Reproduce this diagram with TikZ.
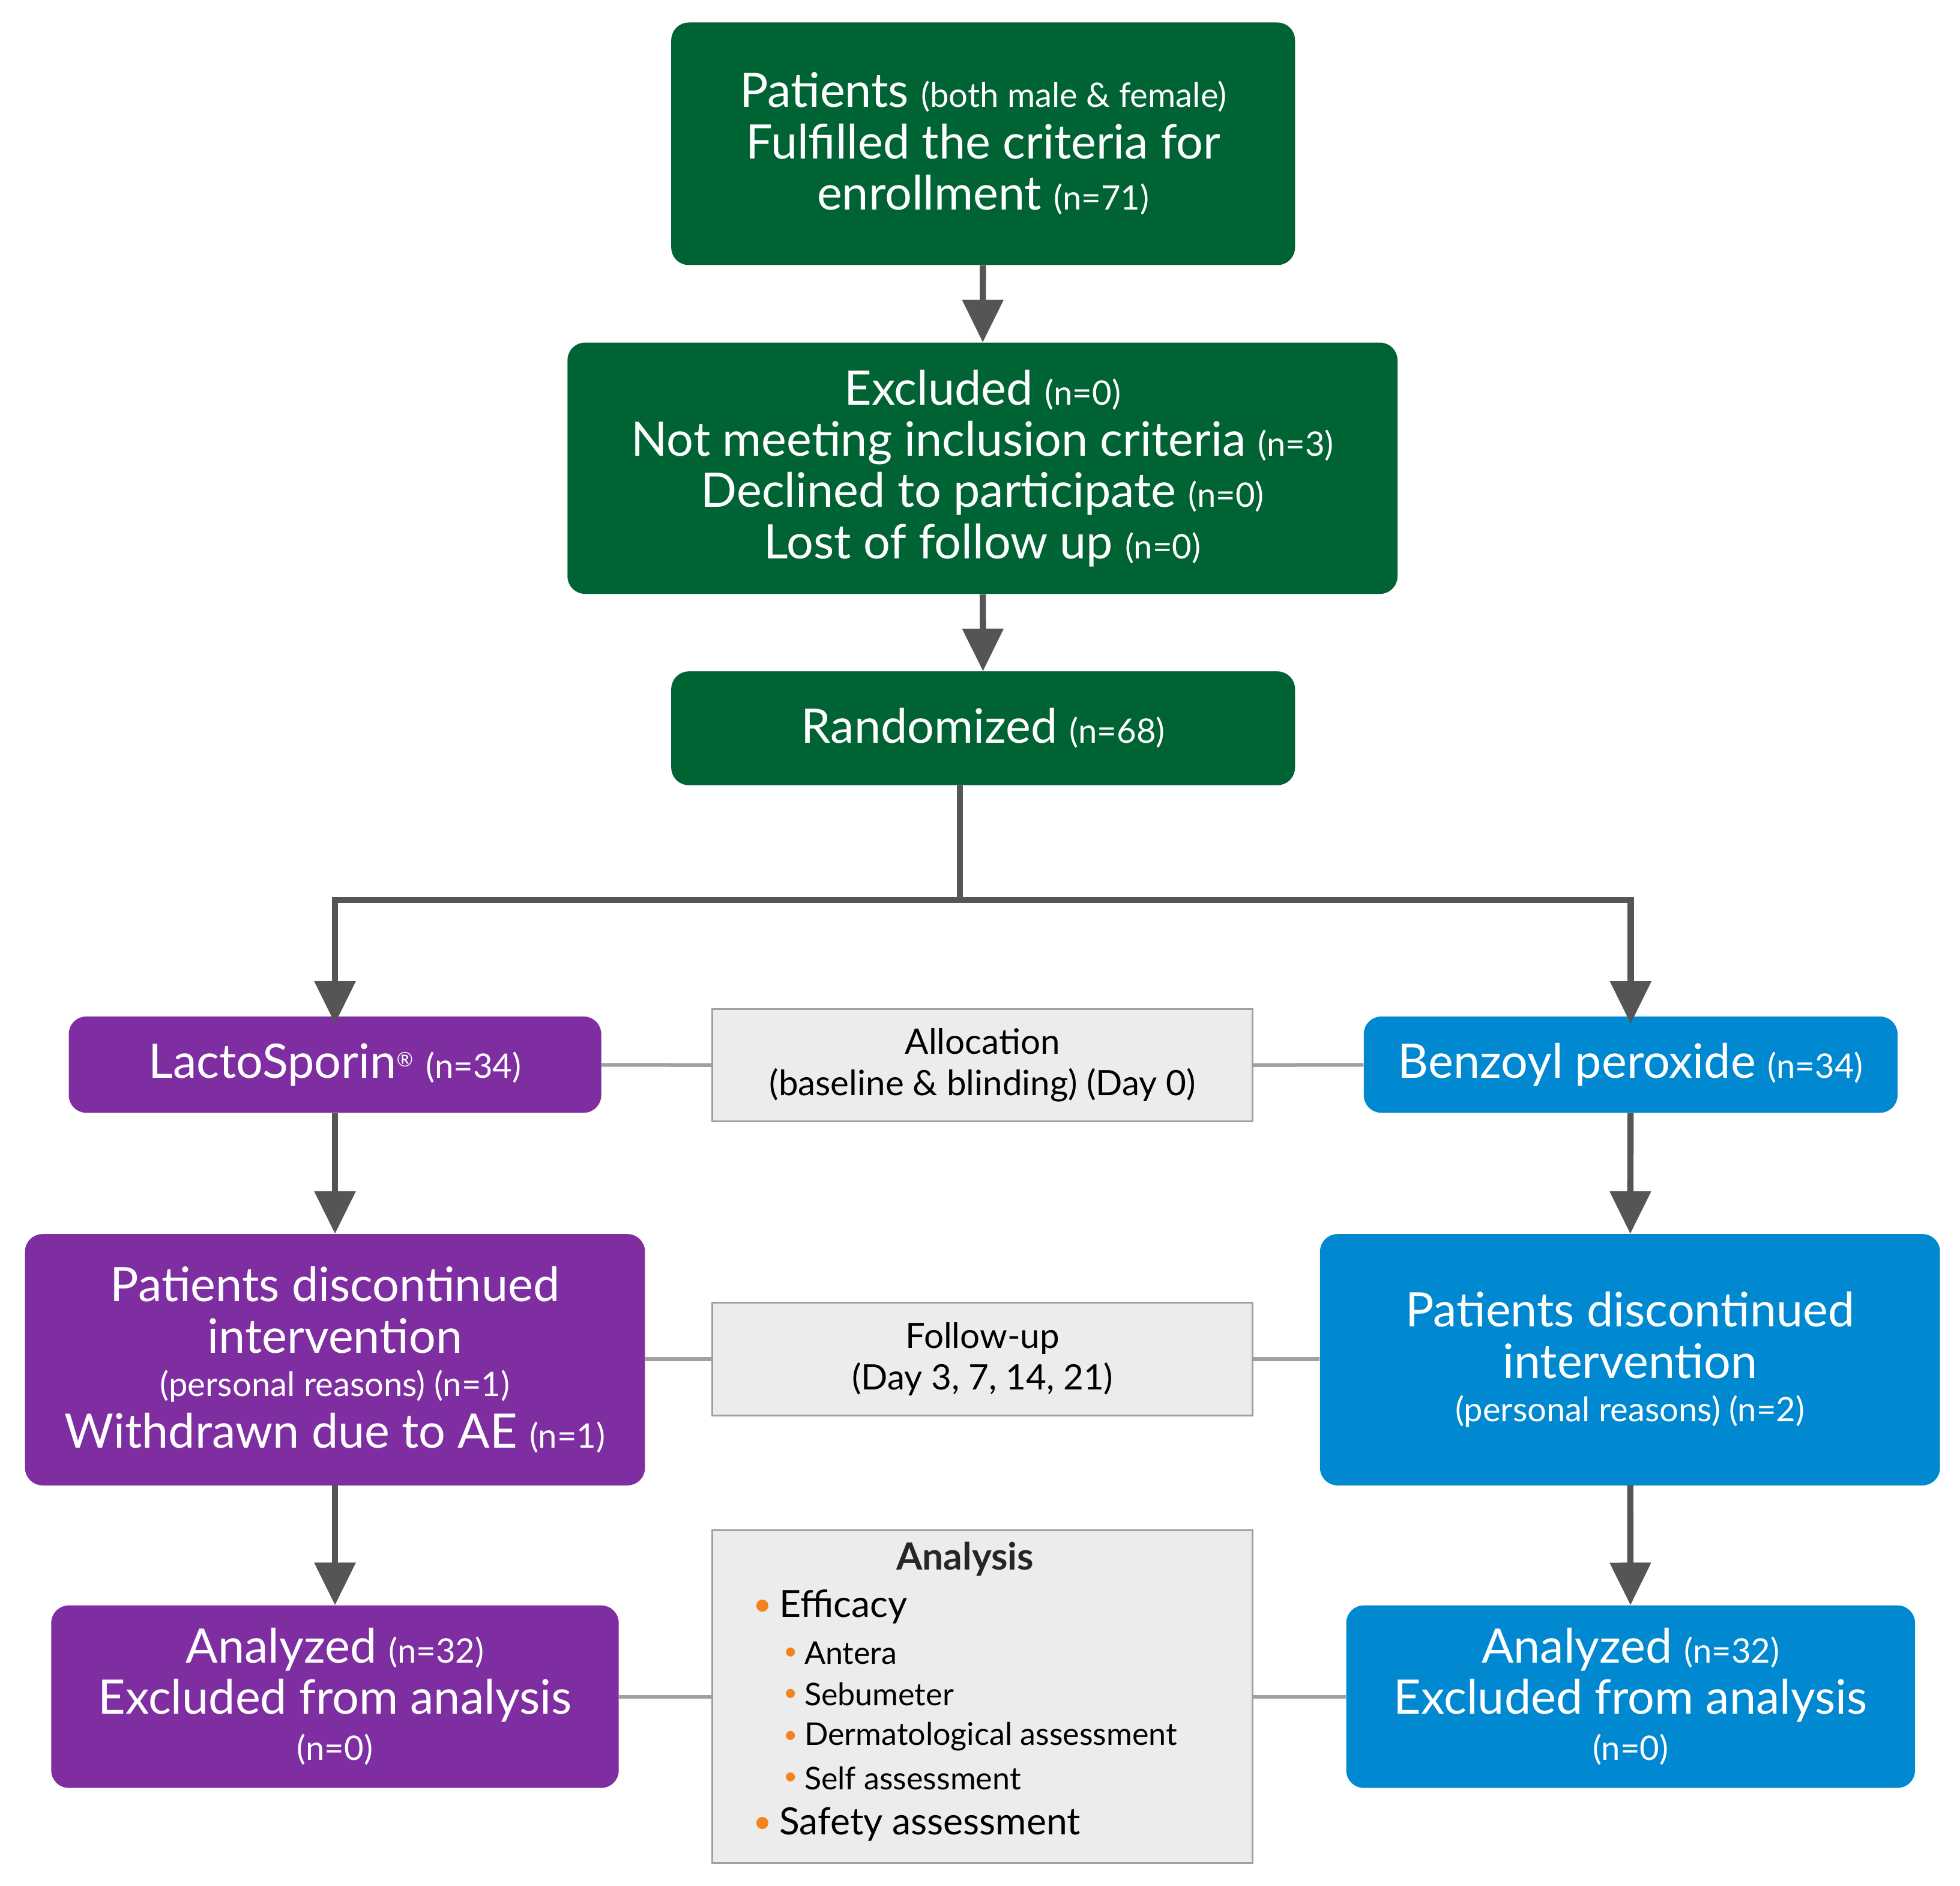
\documentclass[tikz,border=0pt]{standalone}
\usepackage{fontspec}
\setmainfont{Lato}
\usetikzlibrary{arrows.meta}
\definecolor{gr}{RGB}{0,99,52}
\definecolor{pu}{RGB}{126,46,160}
\definecolor{bl}{RGB}{0,136,209}
\definecolor{gf}{RGB}{236,236,236}
\definecolor{gb}{RGB}{160,160,160}
\definecolor{ar}{RGB}{85,85,85}
\definecolor{or}{RGB}{245,130,32}
\newcommand{\sm}[1]{{\fontsize{27}{30}\selectfont #1}}
\begin{document}
\begin{tikzpicture}[x=1pt,y=-1pt,
 box/.style={rounded corners=14pt,text=white,align=center,font=\fontsize{38}{41}\selectfont,inner sep=0},
 gbox/.style={fill=gf,draw=gb,line width=1.5pt,align=center,font=\fontsize{28}{33}\selectfont},
 arr/.style={draw=ar,line width=5pt,-{Triangle[length=34pt,width=32pt]}},
 ln/.style={draw=gb,line width=3pt},
 bul/.style={text=or,font=\fontsize{28}{30}\selectfont}]
\useasboundingbox (0,0) rectangle (1568,1508);
\node[box,fill=gr,minimum width=499,minimum height=194] (p) at (786.5,115) {Patients \sm{(both male \& female)}\\Fulfilled the criteria for\\enrollment \sm{(n=71)}};
\node[box,fill=gr,minimum width=664,minimum height=201] (e) at (786,374.5) {Excluded \sm{(n=0)}\\Not meeting inclusion criteria \sm{(n=3)}\\Declined to participate \sm{(n=0)}\\Lost of follow up \sm{(n=0)}};
\node[box,fill=gr,minimum width=499,minimum height=91] (r) at (786.5,582.5) {Randomized \sm{(n=68)}};
\node[box,fill=pu,minimum width=426,minimum height=77] (l1) at (268,851.5) {LactoSporin\textsuperscript{\fontsize{16}{16}\selectfont\textregistered} \sm{(n=34)}};
\node[box,fill=bl,minimum width=427,minimum height=77] (b1) at (1304.5,851.5) {Benzoyl peroxide \sm{(n=34)}};
\node[gbox,minimum width=432,minimum height=90] (al) at (786,852) {Allocation\\(baseline \& blinding) (Day 0)};
\node[box,fill=pu,minimum width=496,minimum height=201] (l2) at (268,1087.5) {Patients discontinued\\intervention\\[-6pt]\sm{(personal reasons) (n=1)}\\Withdrawn due to AE \sm{(n=1)}};
\node[box,fill=bl,minimum width=496,minimum height=201] (b2) at (1304,1087.5) {Patients discontinued\\intervention\\[-6pt]\sm{(personal reasons) (n=2)}};
\node[gbox,minimum width=432,minimum height=90] (fu) at (786,1087) {Follow-up\\(Day 3, 7, 14, 21)};
\node[box,fill=pu,minimum width=454,minimum height=146] (l3) at (268,1357) {Analyzed \sm{(n=32)}\\Excluded from analysis\\[-4pt]\sm{(n=0)}};
\node[box,fill=bl,minimum width=455,minimum height=146] (b3) at (1304.5,1357) {Analyzed \sm{(n=32)}\\Excluded from analysis\\[-4pt]\sm{(n=0)}};
\node[gbox,minimum width=432,minimum height=266] (an) at (786,1357) {};
\node[font=\fontsize{30}{30}\selectfont\bfseries,text=black!85] (t0) at (772,1247) {Analysis};
\node[anchor=west,font=\fontsize{30}{30}\selectfont] (t1) at (620,1285) {Efficacy};
\node[anchor=west,font=\fontsize{25}{25}\selectfont] (t2) at (640,1322) {Antera};
\node[anchor=west,font=\fontsize{25}{25}\selectfont] (t3) at (640,1355) {Sebumeter};
\node[anchor=west,font=\fontsize{25}{25}\selectfont] (t4) at (640,1389) {Dermatological assessment};
\node[anchor=west,font=\fontsize{25}{25}\selectfont] (t5) at (640,1422) {Self assessment};
\node[anchor=west,font=\fontsize{30}{30}\selectfont] (t6) at (620,1459) {Safety assessment};
\foreach \n in {t1,t6} \node[bul,anchor=east] at (\n.west) {$\bullet$};
\foreach \n in {t2,t3,t4,t5} \node[bul,anchor=east,scale=0.75] at (\n.west) {$\bullet$};
\draw[arr] (p) -- (e);
\draw[arr] (e) -- (r);
\coordinate (s) at (768,720);
\draw[draw=ar,line width=5pt] (r.south -| s) -- (s);
\draw[arr] (s) -| ([yshift=-6pt]l1.north);
\draw[arr] (s) -| ([yshift=-6pt]b1.north);
\draw[arr] (l1) -- (l2);
\draw[arr] (b1) -- (b2);
\draw[arr] (l2) -- (l3);
\draw[arr] (b2) -- (b3);
\draw[ln] (l1) -- (al); \draw[ln] (al) -- (b1);
\draw[ln] (l2.east |- fu) -- (fu); \draw[ln] (fu) -- (b2.west |- fu);
\draw[ln] (l3) -- (an); \draw[ln] (an) -- (b3);
\end{tikzpicture}
\end{document}
